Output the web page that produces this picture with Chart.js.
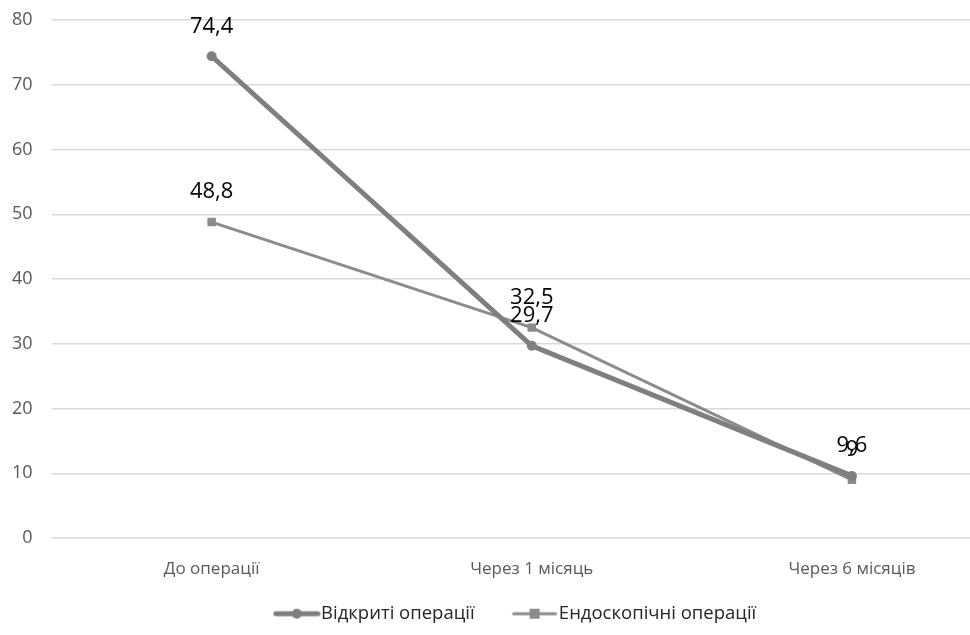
<!DOCTYPE html>
<html>
<head>
<meta charset="utf-8">
<script src="https://cdn.jsdelivr.net/npm/chart.js@4/dist/chart.umd.min.js"></script>
<style>
  html, body { margin: 0; padding: 0; background: #fff; overflow: hidden; }
  #wrap { width: 1045px; height: 635px; }
</style>
</head>
<body>
<div id="wrap"><canvas id="chart" width="1045" height="635"></canvas></div>
<script>
// categories and series
var categories = ['До операції', 'Через 1 місяць', 'Через 6 місяців'];
var openOps = [74.4, 29.7, 9.6];
var endoOps = [48.8, 32.5, 9];
var seriesNames = ['Відкриті операції', 'Ендоскопічні операції'];
var yTicks = [0, 10, 20, 30, 40, 50, 60, 70, 80];

var FONT = "'Open Sans', 'Noto Sans', sans-serif";

// line+marker picture for the legend, with empty room on the left as the gap
var ICON_W = 81;
function legendIcon(color, lineW, shape) {
  var c = document.createElement('canvas');
  c.width = ICON_W; c.height = 14;
  var ctx = c.getContext('2d');
  ctx.strokeStyle = color;
  ctx.lineWidth = lineW;
  ctx.lineCap = 'round';
  ctx.beginPath();
  ctx.moveTo(36, 7); ctx.lineTo(78, 7);
  ctx.stroke();
  ctx.fillStyle = color;
  if (shape == 'circle') {
    ctx.beginPath(); ctx.arc(57, 7, 5, 0, Math.PI * 2); ctx.fill();
  } else {
    ctx.fillRect(52, 2, 10, 10);
  }
  return c;
}

var icons = [legendIcon('#7f7f7f', 5, 'circle'), legendIcon('#8c8c8c', 3, 'rect')];

// value labels above each point
var valueLabels = {
  id: 'valueLabels',
  afterDatasetsDraw: function(chart) {
    var ctx = chart.ctx;
    ctx.save();
    ctx.font = '22px ' + FONT;
    ctx.fillStyle = '#000';
    ctx.textAlign = 'center';
    ctx.textBaseline = 'middle';
    chart.data.datasets.forEach(function(ds, i) {
      var meta = chart.getDatasetMeta(i);
      meta.data.forEach(function(pt, j) {
        var txt = String(ds.data[j]).replace('.', ',');
        ctx.fillText(txt, pt.x, pt.y - 30);
      });
    });
    ctx.restore();
  }
};

new Chart(document.getElementById('chart').getContext('2d'), {
  type: 'line',
  data: {
    labels: categories,
    datasets: [{
      label: seriesNames[0],
      data: openOps,
      borderColor: '#7f7f7f',
      backgroundColor: '#7f7f7f',
      borderWidth: 5,
      pointStyle: 'circle',
      pointRadius: 5,
      pointBorderWidth: 0,
      tension: 0
    }, {
      label: seriesNames[1],
      data: endoOps,
      borderColor: '#8c8c8c',
      backgroundColor: '#8c8c8c',
      borderWidth: 3,
      pointStyle: 'rect',
      pointRadius: 6,
      pointBorderWidth: 0,
      tension: 0
    }]
  },
  options: {
    responsive: false,
    animation: false,
    layout: { padding: { left: -7, right: 33, top: 0, bottom: 2 } },
    plugins: {
      tooltip: { enabled: false },
      legend: {
        position: 'bottom',
        labels: {
          usePointStyle: true,
          pointStyleWidth: ICON_W - 18,
          padding: 12,
          color: '#262626',
          font: { family: FONT, size: 18.5 },
          generateLabels: function(chart) {
            return chart.data.datasets.map(function(ds, i) {
              return {
                text: ds.label,
                pointStyle: icons[i],
                fontColor: '#262626',
                datasetIndex: i,
                hidden: false,
                lineWidth: 0
              };
            });
          }
        }
      }
    },
    scales: {
      x: {
        offset: true,
        grid: { display: false },
        border: { display: false },
        ticks: { color: '#595959', font: { family: FONT, size: 17 }, padding: 13 }
      },
      y: {
        min: 0,
        max: 80,
        afterBuildTicks: function(axis) {
          axis.ticks = yTicks.map(function(v) { return { value: v }; });
        },
        afterFit: function(axis) {
          axis.paddingTop = 20;
        },
        grid: { color: '#d9d9d9', lineWidth: 1.5, drawTicks: false },
        border: { display: false },
        ticks: { color: '#595959', font: { family: FONT, size: 18 }, padding: 19 }
      }
    }
  },
  plugins: [valueLabels]
});
</script>
</body>
</html>
